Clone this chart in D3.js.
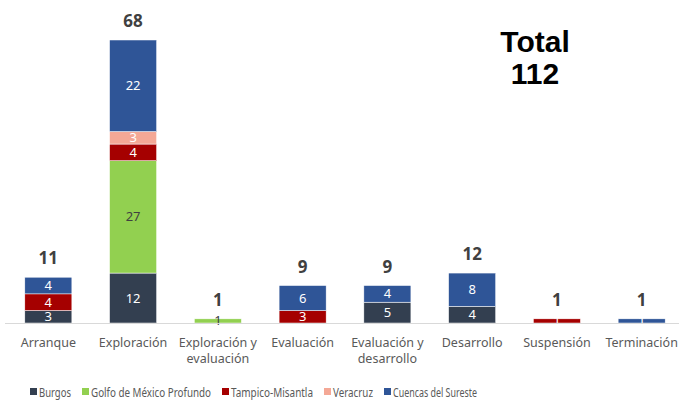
<!DOCTYPE html>
<html>
<head>
<meta charset="utf-8">
<script src="https://cdn.jsdelivr.net/npm/d3@7"></script>
<style>
  body { margin: 0; background: #fff; }
  svg { display: block; font-family: "Noto Sans", sans-serif; }
</style>
</head>
<body>
<div id="vis"></div>
<script>
// categories and series
var categories = ["Arranque", "Exploración", "Exploración y evaluación", "Evaluación",
                  "Evaluación y desarrollo", "Desarrollo", "Suspensión", "Terminación"];
var catLines = [["Arranque"], ["Exploración"], ["Exploración y", "evaluación"], ["Evaluación"],
                ["Evaluación y", "desarrollo"], ["Desarrollo"], ["Suspensión"], ["Terminación"]];
var seriesNames = ["Burgos", "Golfo de México Profundo", "Tampico-Misantla", "Veracruz", "Cuencas del Sureste"];
var burgos   = [3, 12, 0, 0, 5, 4, 0, 0];
var golfo    = [0, 27, 1, 0, 0, 0, 0, 0];
var tampico  = [4, 4, 0, 3, 0, 0, 1, 0];
var veracruz = [0, 3, 0, 0, 0, 0, 0, 0];
var cuencas  = [4, 22, 0, 6, 4, 8, 0, 1];
var colors = ["#333f50", "#92d050", "#a50000", "#f4a896", "#2f5597"];
var labelColors = ["#ffffff", "#404040", "#ffffff", "#ffffff", "#ffffff"];

var width = 679, height = 400;
var baseY = 323;

var rows = categories.map(function(c, i) {
  var r = { cat: c };
  r[seriesNames[0]] = burgos[i];
  r[seriesNames[1]] = golfo[i];
  r[seriesNames[2]] = tampico[i];
  r[seriesNames[3]] = veracruz[i];
  r[seriesNames[4]] = cuencas[i];
  return r;
});
var stacked = d3.stack().keys(seriesNames)(rows);
var totals = rows.map(function(r) { return d3.sum(seriesNames, function(k) { return r[k]; }); });

var x = d3.scaleBand().domain(categories).range([6, 684]).paddingInner(0.445).paddingOuter(0.222);
var y = d3.scaleLinear().domain([0, 68]).range([baseY, 40]);

var svg = d3.select("#vis").append("svg").attr("width", width).attr("height", height);

// bars
var layer = svg.selectAll(".layer").data(stacked).enter().append("g")
  .attr("fill", function(d, i) { return colors[i]; });
layer.selectAll("rect").data(function(d) { return d; }).enter().append("rect")
  .filter(function(d) { return d[1] - d[0] > 0; })
  .attr("x", function(d) { return x(d.data.cat); })
  .attr("width", x.bandwidth())
  .attr("y", function(d) { return y(d[1]); })
  .attr("height", function(d) { return y(d[0]) - y(d[1]); })
  .attr("stroke", "#fff").attr("stroke-width", 0.5);

// segment labels
layer.each(function(s, si) {
  d3.select(this).selectAll("text").data(s.filter(function(d) { return d[1] - d[0] > 0; }))
    .enter().append("text")
    .attr("x", function(d) { return x(d.data.cat) + x.bandwidth() / 2; })
    .attr("y", function(d) { return (y(d[0]) + y(d[1])) / 2 + 4.5; })
    .attr("text-anchor", "middle")
    .attr("font-size", 13)
    .attr("fill", labelColors[si])
    .text(function(d) { return d[1] - d[0]; });
});

// axis line
svg.append("line").attr("x1", 5).attr("x2", 679).attr("y1", baseY + 0.5).attr("y2", baseY + 0.5)
  .attr("stroke", "#d9d9d9").attr("stroke-width", 1);

// totals
svg.selectAll(".total").data(totals).enter().append("text")
  .attr("x", function(d, i) { return x(categories[i]) + x.bandwidth() / 2; })
  .attr("y", function(d) { return y(d) - 13; })
  .attr("text-anchor", "middle")
  .attr("font-size", 17).attr("font-weight", "bold").attr("fill", "#404040")
  .text(function(d) { return d; });

// category labels
var cl = svg.selectAll(".cat").data(catLines).enter().append("text")
  .attr("x", function(d, i) { return x(categories[i]) + x.bandwidth() / 2; })
  .attr("y", 347)
  .attr("text-anchor", "middle")
  .attr("font-size", 12.5).attr("fill", "#595959");
cl.selectAll("tspan").data(function(d) { return d; }).enter().append("tspan")
  .attr("x", function() { return d3.select(this.parentNode).attr("x"); })
  .attr("dy", function(d, i) { return i === 0 ? 0 : 16; })
  .text(function(d) { return d; });

// Total box
svg.append("text").attr("x", 535).attr("y", 52).attr("text-anchor", "middle")
  .attr("font-family", "Liberation Sans, Arial, sans-serif")
  .attr("font-size", 30).attr("font-weight", "bold").attr("fill", "#000").text("Total");
svg.append("text").attr("x", 535).attr("y", 84).attr("text-anchor", "middle")
  .attr("font-family", "Liberation Sans, Arial, sans-serif")
  .attr("font-size", 30).attr("font-weight", "bold").attr("fill", "#000").text("112");

// legend (narrow font in the original, so text is squeezed to its width)
var legX = [30, 82, 222, 324, 384];
var legW = [32, 120, 82, 40, 84];
var leg = svg.selectAll(".leg").data(seriesNames).enter().append("g")
  .attr("transform", function(d, i) { return "translate(" + legX[i] + ",388)"; });
leg.append("rect").attr("width", 7).attr("height", 7).attr("fill", function(d, i) { return colors[i]; });
leg.append("text").attr("x", 9).attr("y", 8.5).attr("font-size", 12).attr("fill", "#595959")
  .attr("textLength", function(d, i) { return legW[i]; })
  .attr("lengthAdjust", "spacingAndGlyphs")
  .text(function(d) { return d; });
</script>
</body>
</html>
